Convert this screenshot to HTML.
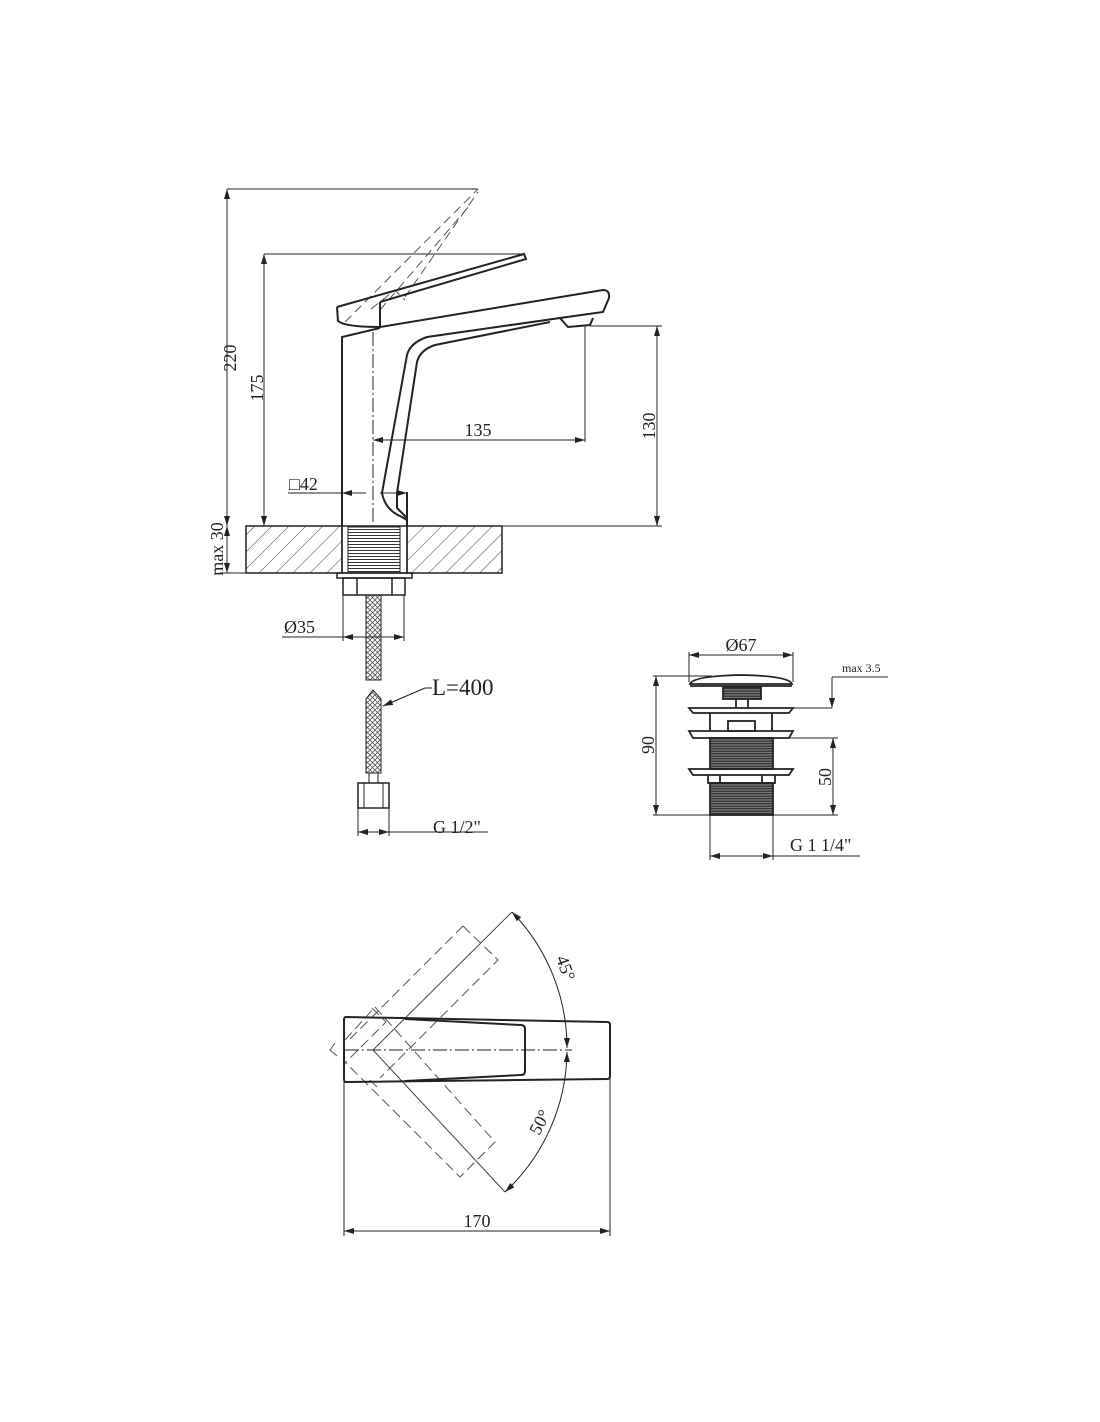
<!DOCTYPE html>
<html><head><meta charset="utf-8"><style>
html,body{margin:0;padding:0;background:#fff;}
svg{display:block;}
text{font-family:"Liberation Serif",serif;fill:#222;}
</style></head><body>
<svg width="1100" height="1422" viewBox="0 0 1100 1422" xmlns="http://www.w3.org/2000/svg">
<defs>
<marker id="a" viewBox="0 0 10 6" refX="10" refY="3" markerWidth="10" markerHeight="6" orient="auto-start-reverse" markerUnits="userSpaceOnUse"><path d="M0,0L10,3L0,6z" fill="#222"/></marker>
<pattern id="h" width="12" height="12" patternUnits="userSpaceOnUse" patternTransform="rotate(45)"><line x1="0" y1="0" x2="0" y2="12" stroke="#444" stroke-width="1"/></pattern>
<pattern id="br" width="5" height="5" patternUnits="userSpaceOnUse"><path d="M0,0L5,5M5,0L0,5" stroke="#555" stroke-width="0.8"/></pattern>
<pattern id="th" width="4" height="3" patternUnits="userSpaceOnUse"><line x1="0" y1="1.5" x2="4" y2="1.5" stroke="#333" stroke-width="1"/></pattern>
<pattern id="th2" width="4" height="2.5" patternUnits="userSpaceOnUse"><rect width="4" height="2.5" fill="#777"/><line x1="0" y1="1.2" x2="4" y2="1.2" stroke="#222" stroke-width="1"/></pattern>
</defs>
<g fill="none" stroke="#222" stroke-width="1">
<line x1="227" y1="189" x2="478" y2="189"/>
<line x1="227" y1="189" x2="227" y2="526" marker-start="url(#a)" marker-end="url(#a)"/>
<line x1="264" y1="254" x2="525" y2="254"/>
<line x1="264" y1="254" x2="264" y2="526" marker-start="url(#a)" marker-end="url(#a)"/>
<line x1="227" y1="526" x2="227" y2="573" marker-start="url(#a)" marker-end="url(#a)"/>
<line x1="220" y1="573" x2="246" y2="573"/>
<g stroke-dasharray="9,5" stroke="#555">
<line x1="345" y1="322" x2="478" y2="189"/>
<line x1="380" y1="310" x2="470" y2="205"/>
<line x1="405" y1="297" x2="478" y2="192"/>
<path d="M371,309 L395,290 L405,300"/>
</g>
<g stroke-width="2">
<path d="M337,307 L524,254 L526,259 L380,302"/>
<path d="M337,307 L338,321 Q345,327 380,327 L380,302"/>
<path d="M380,327 L603,290 Q610,290 609,298 L603,312 L560,318 L568,327 L590,325 L593,318"/>
<path d="M342,526 L342,337 L380,328"/>
<path d="M407,526 L407,492"/>
<path d="M560,318 L427,337 Q410,343 407,355 L382,493 Q385,510 402,517 L407,520"/>
<path d="M550,322 L435,345 Q420,350 417,362 L397,493 L397,508 L407,518"/>
</g>
<line x1="373" y1="332" x2="373" y2="526" stroke-dasharray="14,3,2,3"/>
<line x1="585" y1="326" x2="585" y2="442"/>
<line x1="373" y1="440" x2="585" y2="440" marker-start="url(#a)" marker-end="url(#a)"/>
<line x1="590" y1="326" x2="662" y2="326"/>
<line x1="407" y1="526" x2="662" y2="526"/>
<line x1="657" y1="326" x2="657" y2="526" marker-start="url(#a)" marker-end="url(#a)"/>
<line x1="288" y1="493" x2="342" y2="493"/>
<line x1="342" y1="493" x2="366" y2="493" marker-start="url(#a)"/>
<line x1="380" y1="493" x2="407" y2="493" marker-end="url(#a)"/>
<rect x="246" y="526" width="96" height="47" fill="url(#h)" stroke-width="1.5"/>
<rect x="407" y="526" width="95" height="47" fill="url(#h)" stroke-width="1.5"/>
<rect x="342" y="526" width="65" height="47" stroke-width="1.5"/>
<rect x="348" y="527" width="52" height="46" fill="url(#th)"/>
<rect x="337" y="573" width="75" height="5" stroke-width="1.5"/>
<rect x="343" y="578" width="62" height="17" stroke-width="1.5"/>
<line x1="357" y1="578" x2="357" y2="595" stroke-width="1.5"/>
<line x1="392" y1="578" x2="392" y2="595" stroke-width="1.5"/>
<rect x="366" y="595" width="15" height="85" fill="url(#br)"/>
<path d="M366,773 L366,699 L373,690 L381,699 L381,773 Z" fill="url(#br)"/>
<rect x="369" y="773" width="9" height="10"/>
<rect x="358" y="783" width="31" height="25" stroke-width="1.5"/>
<line x1="364" y1="783" x2="364" y2="808"/><line x1="383" y1="783" x2="383" y2="808"/>
<line x1="358" y1="808" x2="358" y2="836"/><line x1="389" y1="808" x2="389" y2="836"/>
<line x1="358" y1="832" x2="389" y2="832" marker-start="url(#a)" marker-end="url(#a)"/>
<line x1="389" y1="832" x2="488" y2="832"/>
<line x1="343" y1="595" x2="343" y2="641"/><line x1="404" y1="595" x2="404" y2="641"/>
<line x1="282" y1="637" x2="343" y2="637"/>
<line x1="343" y1="637" x2="404" y2="637" marker-start="url(#a)" marker-end="url(#a)"/>
<line x1="425" y1="688" x2="383" y2="706" marker-end="url(#a)"/>
<line x1="425" y1="688" x2="432" y2="688"/>

<line x1="689" y1="652" x2="689" y2="682"/><line x1="793" y1="652" x2="793" y2="682"/>
<line x1="689" y1="655" x2="793" y2="655" marker-start="url(#a)" marker-end="url(#a)"/>
<g stroke-width="1.8">
<path d="M690,684 Q693,676 741,675 Q789,676 792,684 Z"/>
<line x1="690" y1="686" x2="792" y2="686"/>
<rect x="723" y="687" width="38" height="12" fill="url(#th2)"/>
<line x1="736" y1="699" x2="736" y2="707"/><line x1="748" y1="699" x2="748" y2="707"/>
<path d="M689,708 L793,708 L789,713 L693,713 Z"/>
<line x1="710" y1="713" x2="710" y2="731"/><line x1="772" y1="713" x2="772" y2="731"/>
<rect x="728" y="721" width="27" height="10"/>
<path d="M689,731 L793,731 L789,738 L693,738 Z"/>
<rect x="710" y="738" width="63" height="31" fill="url(#th2)"/>
<path d="M689,769 L793,769 L789,775 L693,775 Z"/>
<path d="M708,775 L708,783 L775,783 L775,775"/>
<line x1="720" y1="775" x2="720" y2="783"/><line x1="762" y1="775" x2="762" y2="783"/>
<rect x="710" y="783" width="63" height="32" fill="url(#th2)"/>
</g>
<line x1="653" y1="676" x2="712" y2="676"/>
<line x1="653" y1="815" x2="712" y2="815"/>
<line x1="656" y1="676" x2="656" y2="815" marker-start="url(#a)" marker-end="url(#a)"/>
<line x1="773" y1="738" x2="838" y2="738"/>
<line x1="773" y1="815" x2="838" y2="815"/>
<line x1="833" y1="738" x2="833" y2="815" marker-start="url(#a)" marker-end="url(#a)"/>
<line x1="832" y1="677" x2="888" y2="677"/>
<line x1="832" y1="677" x2="832" y2="708" marker-end="url(#a)"/>
<line x1="760" y1="708" x2="832" y2="708"/>
<line x1="710" y1="815" x2="710" y2="860"/><line x1="773" y1="815" x2="773" y2="860"/>
<line x1="710" y1="856" x2="773" y2="856" marker-start="url(#a)" marker-end="url(#a)"/>
<line x1="773" y1="856" x2="860" y2="856"/>

<g stroke-dasharray="10,5" stroke="#555">
<path d="M463,926 L498,960 L380,1078"/>
<path d="M463,926 L350,1039"/>
<path d="M372,1008 L386,1022 L345,1063"/>
<path d="M375,1007 L495,1142 L460,1177 L345,1062"/>
<path d="M345,1040 L375,1007"/>
<path d="M370,1080 L380,1090"/>
</g>
<path d="M335,1043 L330,1050 L337,1056" stroke="#555"/>
<line x1="512" y1="912" x2="373" y2="1050" stroke="#444"/>
<line x1="505" y1="1192" x2="373" y2="1050" stroke="#444"/>
<g stroke-width="2">
<path d="M346,1017 L607,1022 Q610,1022 610,1025 L610,1076 Q610,1079 607,1079 L346,1082 Q344,1082 344,1079 L344,1020 Q344,1017 346,1017 Z"/>
<path d="M405,1019 L521,1025 Q525,1025 525,1029 L525,1071 Q525,1075 521,1075 L405,1081"/>
</g>
<line x1="345" y1="1050" x2="572" y2="1050" stroke-dasharray="14,3,2,3"/>
<path d="M512,912 A195,195 0 0 1 567,1048" marker-start="url(#a)" marker-end="url(#a)"/>
<path d="M567,1052 A195,195 0 0 1 505,1192" marker-start="url(#a)" marker-end="url(#a)"/>
<line x1="344" y1="1082" x2="344" y2="1236"/><line x1="610" y1="1079" x2="610" y2="1236"/>
<line x1="344" y1="1231" x2="610" y2="1231" marker-start="url(#a)" marker-end="url(#a)"/>
</g>
<g font-size="18">
<text transform="translate(236,358) rotate(-90)" text-anchor="middle">220</text>
<text transform="translate(263,388) rotate(-90)" text-anchor="middle">175</text>
<text transform="translate(223,549) rotate(-90)" text-anchor="middle">max 30</text>
<text x="478" y="436" text-anchor="middle">135</text>
<text transform="translate(655,426) rotate(-90)" text-anchor="middle">130</text>
<text x="289" y="490">□42</text>
<text x="284" y="633">Ø35</text>
<text x="432" y="695" font-size="23">L=400</text>
<text x="433" y="833">G 1/2"</text>
<text x="741" y="651" text-anchor="middle">Ø67</text>
<text x="842" y="672" font-size="12">max 3.5</text>
<text transform="translate(654,745) rotate(-90)" text-anchor="middle">90</text>
<text transform="translate(831,777) rotate(-90)" text-anchor="middle">50</text>
<text x="790" y="851">G 1 1/4"</text>
<text x="477" y="1227" text-anchor="middle">170</text>
<text transform="translate(560,970) rotate(70)" text-anchor="middle">45°</text>
<text transform="translate(545,1125) rotate(-62)" text-anchor="middle">50°</text>
</g>
</svg>
</body></html>
